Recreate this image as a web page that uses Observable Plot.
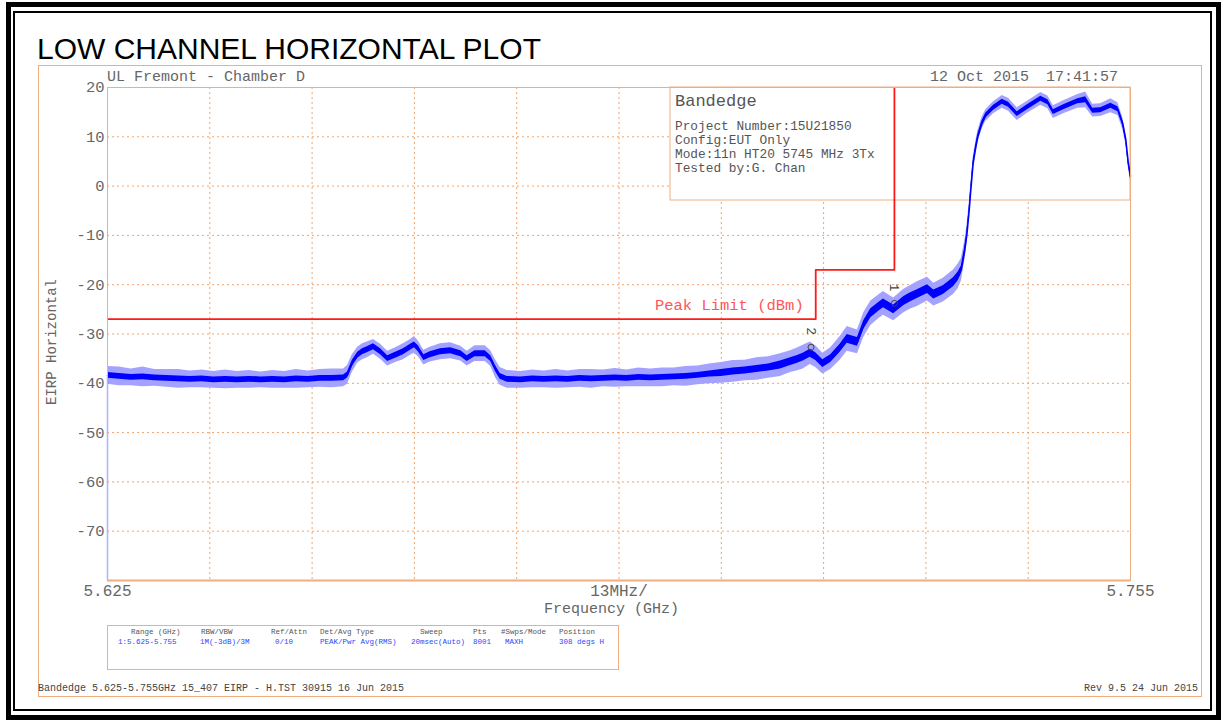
<!DOCTYPE html>
<html><head><meta charset="utf-8">
<script src="https://cdn.jsdelivr.net/npm/d3@7"></script>
<script src="https://cdn.jsdelivr.net/npm/@observablehq/plot@0.6"></script>
<style>
body{margin:0;background:#fff;}
#page{position:relative;width:1225px;height:723px;overflow:hidden;background:#fff;font-family:"Liberation Mono","DejaVu Sans Mono",monospace;}
.abs{position:absolute;white-space:pre;line-height:1;}
#page svg{position:absolute;left:0;top:0;}
</style></head><body><div id="page"></div>
<script>
// ---------------- data ----------------
const title = "LOW CHANNEL HORIZONTAL PLOT";
const siteLabel = "UL Fremont - Chamber D";
const dateLabel = "12 Oct 2015";
const timeLabel = "17:41:57";
const yLabel = "EIRP Horizontal";
const xLabel = "Frequency (GHz)";
const yDomain = [-80, 20];
const xDomain = [5.625, 5.755];
const yTickValues = [20, 10, 0, -10, -20, -30, -40, -50, -60, -70];
const yGridValues = [10, 0, -10, -20, -30, -40, -50, -60, -70];
const xGridValues = [5.638, 5.651, 5.664, 5.677, 5.690, 5.703, 5.716, 5.729, 5.742];
const xTickValues = [5.625, 5.690, 5.755];
const xTickLabels = ["5.625", "13MHz/", "5.755"];

const legendTitle = "Bandedge";
const legendLines = ["Project Number:15U21850", "Config:EUT Only", "Mode:11n HT20 5745 MHz 3Tx", "Tested by:G. Chan"];

const limitLabel = "Peak Limit (dBm)";
const limitMHz = [5625, 5715, 5715, 5725, 5725];
const limitDbm = [-27, -27, -17, -17, 27];

const markerIds = ["1", "2"];
const markerMHz = [5725.0, 5714.4];
const markerDbm = [-25.0, -33.9];

const sweepStartDbm = -80;

// trace: frequency (MHz), centre level, dense-core half width, spike half width (dB)
const traceMHz = [5625.0,5626.5,5628.0,5629.5,5631.0,5632.5,5634.0,5635.5,5637.0,5638.5,5640.0,5641.5,5643.0,5644.5,5646.0,5647.5,5649.0,5650.5,5652.0,5653.5,5655.0,
 5655.5,5656.1,5656.8,5657.4,5658.0,5658.8,5659.7,5660.6,5661.6,5662.6,5663.5,5664.0,5664.5,5665.2,5666.0,5667.3,5668.6,5669.9,5670.7,5671.7,5673.0,5673.7,5674.3,5674.9,5675.8,
 5677.5,5679.0,5680.5,5682.0,5683.5,5685.0,5686.5,5688.0,5689.5,5691.0,5692.5,5694.0,5695.5,5697.0,5698.5,5700.0,5701.5,5703.0,5704.5,5706.0,5707.5,5709.0,5710.5,5711.8,5712.6,5713.4,5714.3,5715.0,5715.9,5716.9,5718.1,5719.0,5720.3,5721.1,5722.0,5723.0,5723.6,5724.9,5726.2,5727.0,5727.9,5729.2,5730.0,5731.2,5732.5,5733.1,5733.5,5733.9,5734.2,5734.5,5734.7,5735.0,5735.3,5735.6,5736.1,5736.6,5737.6,5738.7,5739.5,5740.6,5741.9,5743.6,5744.5,5745.2,5746.5,5748.3,5749.3,5750.2,5751.2,5752.5,5753.4,5754.0,5754.4,5754.7,5755.0];
const traceMid = [-38.4,-38.6,-38.8,-38.7,-38.9,-39.0,-39.1,-39.2,-39.1,-39.3,-39.2,-39.3,-39.2,-39.3,-39.2,-39.3,-39.1,-39.2,-39.0,-39.0,-38.9,
 -38.3,-36.0,-34.3,-33.6,-33.2,-32.6,-33.6,-35.0,-34.3,-33.6,-32.7,-32.2,-33.0,-34.8,-34.2,-33.6,-33.4,-34.0,-35.0,-34.0,-34.0,-35.0,-37.0,-38.6,-39.2,
 -39.3,-39.1,-39.2,-39.1,-39.2,-39.0,-39.1,-39.0,-38.9,-39.0,-38.8,-38.9,-38.8,-38.7,-38.6,-38.4,-38.1,-37.9,-37.6,-37.4,-37.1,-36.8,-36.3,-35.6,-35.2,-34.7,-33.9,-34.6,-36.0,-35.0,-32.9,-31.0,-31.6,-28.2,-25.8,-24.5,-23.8,-25.0,-23.3,-22.6,-21.9,-20.9,-22.0,-21.1,-19.5,-18.3,-17.0,-13.5,-10.0,-5.0,-1.0,4.5,7.5,10.0,12.6,14.3,15.9,17.1,16.5,14.6,16.0,17.7,17.0,15.0,16.0,17.2,17.5,15.3,15.4,16.3,15.6,12.8,9.5,5.0,2.0];
const traceCore = [0.6,0.6,0.6,0.6,0.6,0.6,0.6,0.6,0.6,0.6,0.6,0.6,0.6,0.6,0.6,0.6,0.6,0.6,0.6,0.6,0.6,
 0.6,0.6,0.6,0.6,0.6,0.6,0.6,0.6,0.6,0.6,0.6,0.6,0.6,0.6,0.6,0.6,0.6,0.6,0.6,0.6,0.6,0.6,0.6,0.6,0.6,
 0.6,0.6,0.6,0.6,0.6,0.6,0.6,0.6,0.6,0.6,0.6,0.6,0.6,0.6,0.6,0.6,0.6,0.7,0.7,0.7,0.7,0.7,0.8,0.8,0.8,0.8,0.8,0.8,0.8,0.8,0.8,0.9,0.9,0.9,0.9,0.9,0.9,0.9,0.9,0.9,0.9,0.9,0.9,0.9,0.9,0.9,0.8,0.8,0.7,0.6,0.6,0.6,0.6,0.5,0.5,0.5,0.5,0.5,0.5,0.5,0.5,0.5,0.5,0.5,0.5,0.5,0.6,0.5,0.5,0.5,0.5,0.5,0.5,0.5,0.5];
const traceSpike = [1.8,1.9,1.7,2.0,1.7,1.8,1.9,1.7,1.8,1.7,1.9,1.7,1.8,1.6,1.8,1.7,1.9,1.7,1.8,1.9,1.8,
 1.9,1.8,1.6,1.6,1.6,1.5,1.5,1.5,1.5,1.6,1.6,1.7,1.6,1.5,1.5,1.6,1.6,1.5,1.5,1.6,1.6,1.6,1.8,1.8,1.8,
 1.7,1.8,1.7,1.9,1.7,1.8,1.9,1.7,1.9,1.7,1.9,1.8,1.9,1.8,2.0,1.9,2.0,2.1,2.2,2.1,2.3,2.2,2.3,2.2,2.3,2.4,2.3,2.2,2.1,2.2,2.4,2.5,2.4,2.5,2.5,2.4,2.4,2.3,2.4,2.4,2.5,2.4,2.3,2.4,2.5,2.5,2.3,2.0,1.8,1.5,1.4,1.3,1.2,1.2,1.2,1.2,1.2,1.3,1.3,1.3,1.2,1.3,1.3,1.3,1.3,1.4,1.6,1.3,1.3,1.4,1.3,1.2,1.0,1.0,1.0];

const tableHeaders = ["Range (GHz)", "RBW/VBW", "Ref/Attn", "Det/Avg Type", "Sweep", "Pts", "#Swps/Mode", "Position"];
const tableValues = ["1:5.625-5.755", "1M(-3dB)/3M", "0/10", "PEAK/Pwr Avg(RMS)", "20msec(Auto)", "8001", "MAXH", "308 degs H"];
const footerLeft = "Bandedge 5.625-5.755GHz 15_407 EIRP - H.TST 30915 16 Jun 2015";
const footerRight = "Rev 9.5 24 Jun 2015";

// ---------------- build ----------------
const orange = "#efae80";
const gridOrange = "#f0a46c";
const trace = traceMHz.map((f, i) => ({
  f: f / 1000, mid: traceMid[i],
  cLo: traceMid[i] - traceCore[i], cHi: traceMid[i] + traceCore[i],
  sLo: traceMid[i] - traceSpike[i], sHi: traceMid[i] + traceSpike[i]
}));
const limit = limitMHz.map((f, i) => ({f: f / 1000, v: limitDbm[i]}));
const markers = markerIds.map((id, i) => ({id, f: markerMHz[i] / 1000, v: markerDbm[i]}));

const legendBox = (index, scales, values, dims) => {
  const d = dims || {width: 1225, marginRight: 95, marginTop: 87};
  const right = d.width - d.marginRight, top = d.marginTop;
  return d3.create("svg:rect")
    .attr("x", right - 460).attr("y", top).attr("width", 460).attr("height", 113)
    .attr("fill", "#fff").attr("stroke", orange).attr("stroke-width", 1).node();
};

const chart = Plot.plot({
  width: 1225, height: 723,
  marginLeft: 107, marginRight: 95, marginTop: 87, marginBottom: 143,
  x: {domain: xDomain},
  y: {domain: yDomain},
  style: {background: "transparent", fontFamily: "'Liberation Mono', monospace", fontSize: "15.5px", color: "#666"},
  marks: [
    Plot.ruleX(xGridValues, {stroke: gridOrange, strokeDasharray: "2,3", strokeWidth: 1}),
    Plot.ruleY(yGridValues, {stroke: gridOrange, strokeDasharray: "2,3", strokeWidth: 1}),
    legendBox,
    Plot.line(limit, {x: "f", y: "v", stroke: "#ff1a1a", strokeWidth: 1.8, clip: true}),
    Plot.text([limit[1]], {x: "f", y: "v", text: () => limitLabel, textAnchor: "end", dx: -12, dy: -14,
      fill: "#ff5555", fontSize: 15.5, fontFamily: "'Liberation Mono', monospace"}),
    Plot.areaY(trace, {x: "f", y1: "sLo", y2: "sHi", fill: "#a3a3ff", curve: "linear"}),
    Plot.areaY(trace, {x: "f", y1: "cLo", y2: "cHi", fill: "#0000ff", curve: "linear"}),
    Plot.line(trace, {x: "f", y: "mid", stroke: "#0000ff", strokeWidth: 1.5}),
    Plot.ruleX([xDomain[0]], {y1: sweepStartDbm, y2: traceMid[0], stroke: "#3030ff", strokeWidth: 1.2}),
    Plot.dot(markers, {x: "f", y: "v", r: 3, stroke: "#444", strokeWidth: 1, dy: -6}),
    Plot.text(markers, {x: "f", y: "v", text: "id", rotate: 90, dy: -22, fill: "#444", fontSize: 13}),
    Plot.frame({stroke: orange}),
    Plot.ruleY([yDomain[0]], {stroke: orange, strokeWidth: 2}),
    Plot.axisY({ticks: yTickValues, tickSize: 0, tickPadding: 3, tickFormat: d => String(d), label: null}),
    Plot.axisX({ticks: xTickValues, tickSize: 0, tickPadding: 4, tickFormat: (d, i) => xTickLabels[i], label: null, fontSize: 16})
  ]
});

const page = document.getElementById("page");
page.appendChild(chart);

function addText(txt, css) {
  const el = document.createElement("div");
  el.className = "abs";
  el.textContent = txt;
  Object.assign(el.style, css);
  page.appendChild(el);
  return el;
}
function addBox(css) {
  const el = document.createElement("div");
  el.style.position = "absolute";
  el.style.boxSizing = "border-box";
  Object.assign(el.style, css);
  page.appendChild(el);
  return el;
}

// frames
addBox({left: "6px", top: "2px", width: "1215px", height: "718px", border: "5px solid #000"});
addBox({left: "13px", top: "11px", width: "1199px", height: "700px", border: "2px solid #000"});
addBox({left: "38px", top: "65px", width: "1164px", height: "632px", border: `1px solid ${orange}`});
addBox({left: "107px", top: "625px", width: "512px", height: "45px", border: `1px solid ${orange}`});

// title and headers
addText(title, {left: "37px", top: "34px", fontFamily: "'Liberation Sans', Arial, sans-serif", fontSize: "30px", color: "#000"});
addText(siteLabel, {left: "107px", top: "70px", fontSize: "15px", color: "#666"});
addText(dateLabel, {left: "930px", top: "70px", fontSize: "15px", color: "#666"});
addText(timeLabel, {right: "107px", top: "70px", fontSize: "15px", color: "#666"});

// axis titles
addText(xLabel, {left: "544px", top: "602px", fontSize: "15px", color: "#666"});
const yl = addText(yLabel, {left: "52px", top: "342px", fontSize: "14px", color: "#666"});
yl.style.transform = "translate(-50%,-50%) rotate(-90deg)";

// legend text
addText(legendTitle, {left: "675px", top: "93px", fontSize: "17px", color: "#555"});
legendLines.forEach((s, i) => addText(s, {left: "675px", top: `${121 + i * 14}px`, fontSize: "12.8px", color: "#555"}));

// table
const headLeft = [131, 201, 271, 320, 420, 473, 501, 559];
const valLeft = [118, 200, 275, 320, 411, 473, 505, 559];
tableHeaders.forEach((s, i) => addText(s, {left: headLeft[i] + "px", top: "629px", fontSize: "7.5px", color: "#555"}));
tableValues.forEach((s, i) => addText(s, {left: valLeft[i] + "px", top: "639px", fontSize: "7.5px", color: "#2848ff"}));

// footer
addText(footerLeft, {left: "38px", top: "684px", fontSize: "10px", color: "#444"});
addText(footerRight, {right: "27px", top: "684px", fontSize: "10px", color: "#444"});
</script></body></html>
